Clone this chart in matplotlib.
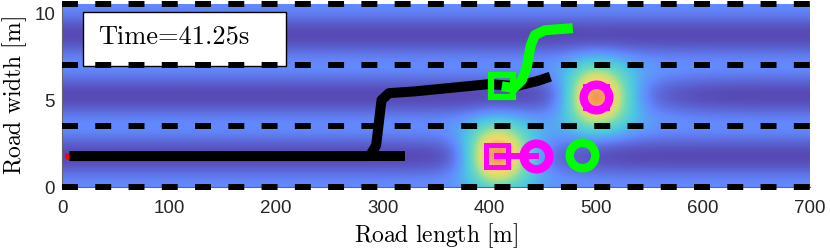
import numpy as np
import matplotlib
matplotlib.use("Agg")
import matplotlib.pyplot as plt
from matplotlib.colors import LinearSegmentedColormap
from matplotlib.patches import Rectangle

plt.rcParams['mathtext.fontset'] = 'cm'

# road geometry
road_len = 700
lane_lines = [0, 3.5, 7, 10.5]
lane_width = 3.5

# obstacle vehicles: current position (square) and predicted position (circle)
obs_x = [407, 500]
obs_y = [1.8, 5.2]
obs_pred_x = [444, 500]
obs_pred_y = [1.8, 5.2]

# ego history / planned path (black)
ego_x = [7, 288, 294, 299, 306, 330, 400, 425, 445, 457]
ego_y = [1.78, 1.78, 2.4, 5.0, 5.4, 5.5, 5.92, 5.8, 6.1, 6.35]
ego_tail_x = [280, 321]
ego_tail_y = [1.78, 1.78]
start_x, start_y = 6, 1.8

# candidate trajectory (green)
cand_x = [411.6, 422.8, 430.3, 435.0, 438.7, 442.5, 451.8, 478.0]
cand_y = [5.80, 5.69, 6.15, 6.90, 8.16, 8.74, 9.02, 9.14]
goal_x, goal_y = 487, 1.84

time_txt = 41.25

# potential field colormap
cmap = LinearSegmentedColormap.from_list("field", [
    (0.00, (88/255, 74/255, 182/255)),
    (0.16, (98/255, 138/255, 255/255)),
    (0.32, (75/255, 198/255, 228/255)),
    (0.48, (110/255, 218/255, 185/255)),
    (0.62, (190/255, 225/255, 125/255)),
    (0.76, (246/255, 216/255, 104/255)),
    (1.00, (242/255, 135/255, 80/255)),
])

xg = np.linspace(0, road_len, 701)
yg = np.linspace(0, 10.5, 211)
X, Y = np.meshgrid(xg, yg)
V = 0.16 * (np.cos(2 * np.pi * Y / lane_width) + 1) / 2
for ox, oy in zip(obs_x, obs_y):
    dx = X - ox
    sx = np.where(dx < 0, 19.0, 22.0)
    V = V + 0.86 * np.exp(-(dx**2 / (2 * sx**2) + (Y - oy)**2 / (2 * 1.15**2)))
    V = V + 0.10 * np.exp(-((dx - 20)**2 / (2 * 40.0**2) + (Y - oy)**2 / (2 * 1.1**2)))

fig = plt.figure(figsize=(8.3, 2.49), dpi=100)
ax = fig.add_axes([62/830, 1 - 187/249, 748/830, 182.5/249])
ax.imshow(V, extent=[0, road_len, 0, 10.5], origin='lower', aspect='auto',
          interpolation='bilinear', cmap=cmap, vmin=0, vmax=1, zorder=0)

ax.add_patch(Rectangle((19.6, 6.98), 190, 3.07, facecolor='white',
                       edgecolor='black', lw=1.0, zorder=2))
ax.text(33.7, 8.28, 'Time=%.2fs' % time_txt, fontsize=19, fontfamily='cmr10',
        va='baseline', ha='left', zorder=3)

ax.plot(ego_tail_x, ego_tail_y, color='black', lw=7.2, solid_capstyle='butt', zorder=4)
ax.plot(ego_x, ego_y, color='black', lw=7.2, solid_capstyle='butt',
        solid_joinstyle='round', zorder=4)
ax.plot(start_x, start_y, 'o', color='red', ms=4, zorder=3.9)

for ly in lane_lines:
    ax.plot([0, road_len], [ly, ly], color='black', lw=4.3, dashes=(2.67, 2.9),
            dash_capstyle='butt', clip_on=False, zorder=5)

ax.plot(cand_x, cand_y, color='#00ff00', lw=7.2, solid_capstyle='butt',
        solid_joinstyle='round', zorder=6)
ax.plot(cand_x[0], cand_y[0], 's', ms=15.7, mfc='none', mec='#00ff00', mew=4.5, zorder=6)
ax.plot(goal_x, goal_y, 'o', ms=18.4, mfc='none', mec='#00ff00', mew=6.1, zorder=6)

for i in range(len(obs_x)):
    ax.plot([obs_x[i], obs_pred_x[i]], [obs_y[i], obs_pred_y[i]], color='#ff00ff',
            lw=4.3, zorder=7)
    ax.plot(obs_x[i], obs_y[i], 's', ms=15.7, mfc='none', mec='#ff00ff', mew=3.6, zorder=7)
    ax.plot(obs_pred_x[i], obs_pred_y[i], 'o', ms=18.4, mfc='none', mec='#ff00ff',
            mew=6.1, zorder=7)

ax.set_xlim(0, road_len)
ax.set_ylim(0, 10.5)
ax.set_xticks(range(0, 701, 100))
ax.set_yticks([0, 5, 10])
ax.tick_params(length=0, labelsize=13.5, pad=9)
ax.tick_params(axis='y', pad=5)
for lab in ax.get_xticklabels() + ax.get_yticklabels():
    lab.set_fontfamily('Liberation Sans')
    lab.set_color('#262626')
for s in ['top', 'right']:
    ax.spines[s].set_visible(False)
for s in ['left', 'bottom']:
    ax.spines[s].set_color('#666666')
    ax.spines[s].set_linewidth(0.8)

ax.set_xlabel(r'$\mathrm{Road\ length\ [m]}$', fontsize=17)
ax.set_ylabel(r'$\mathrm{Road\ width\ [m]}$', fontsize=17)
ax.xaxis.set_label_coords(0.5, -0.185)
ax.yaxis.set_label_coords(-0.044, 0.5)

fig.savefig('out.png', dpi=100)
